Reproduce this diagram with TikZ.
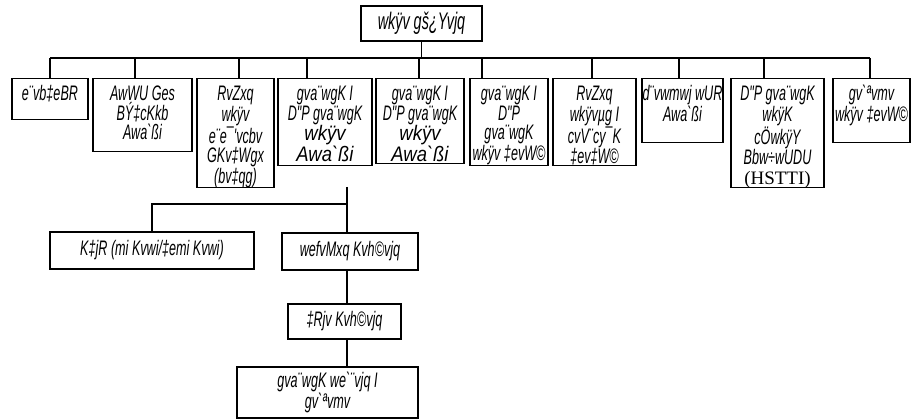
\documentclass[tikz,border=0pt]{standalone}
\usepackage{fontspec}
\setmainfont{Liberation Sans}[FakeStretch=0.6, Ligatures=TeXOff]
\newfontfamily\widefont{Liberation Sans}[FakeStretch=0.88, Ligatures=TeXOff]
\newfontfamily\tmsfont{Liberation Serif}
\newcommand\bigline{\widefont\itshape}

\begin{document}
\begin{tikzpicture}[
  x=1pt, y=-1pt,
  box/.style={rectangle, draw, line width=1.4pt, inner xsep=2pt, inner ysep=0pt, align=center,
    font=\fontsize{21}{19.5}\selectfont\itshape},
  unit/.style={box, align=flush center, anchor=north, inner xsep=-8pt, text height=22pt, text depth=#1},
  conn/.style={line width=1.4pt},
  big/.style={font=\fontsize{24}{22}\selectfont\itshape}
]
  \useasboundingbox (0,0) rectangle (921,419);

  % ministry
  \node[box, big, minimum width=121pt, minimum height=35pt] (top) at (421.5,23.5) {wkÿv gš¿Yvjq};

  % first row (text width = box width + 16pt)
  \node[unit=19pt, text width=92pt] (bn) at (50,78) {e¨vb‡eBR};
  \node[unit=51pt, text width=115pt] (ad) at (142.5,78) {AwWU Ges\\BÝ‡cKkb\\Awa`ßi};
  \node[unit=87pt, text width=93pt] (na) at (235.5,78) {RvZxq\\wkÿv\\e¨e¯'vcbv\\GKv‡Wgx\\(bv‡qg)};
  \node[unit=65pt, text width=110pt] (dshe) at (325,78)
    {gva¨wgK I\\D"P gva¨wgK\\\bigline wkÿv\\\bigline Awa`ßi};
  \node[unit=63pt, text width=104pt] (dsheb) at (420,78)
    {gva¨wgK I\\D"P gva¨wgK\\\bigline wkÿv\\\bigline Awa`ßi};
  \node[unit=65pt, text width=94pt] (bb) at (509,78) {gva¨wgK I\\D"P\\gva¨wgK\\wkÿv ‡evW©};
  \node[unit=65pt, text width=99pt] (nctb) at (594.5,78) {RvZxq\\wkÿvµg I\\cvV¨cy¯K\\‡ev‡W©};
  \node[unit=42pt, text width=97pt] (fac) at (682.5,78) {d¨vwmwj wUR\\Awa`ßi};
  \node[unit=87pt, text width=109pt] (hstti) at (777.5,78)
    {D"P gva¨wgK\\wkÿK\\cÖwkÿY\\Bbw÷wUDU\\\tmsfont\upshape\fontsize{19}{21}\selectfont (HSTTI)};
  \node[unit=42pt, text width=93pt] (mb) at (871.5,78) {gv`ªvmv\\wkÿv ‡evW©};

  % bus
  \foreach \xx/\bx [count=\i] in {50/bn, 135/ad, 239/na, 307/dshe, 419/dsheb, 482/bb, 592/nctb, 679/fac, 764/hstti, 870/mb}
  {
    \coordinate (d\i) at (\xx,58);
    \draw[conn] (d\i) -- (d\i |- \bx.north);
  }
  \draw[conn] (d1) -- (d10);
  \draw[conn] (top.south) -- (top.south |- d1);

  % second level
  \node[box, minimum width=204pt, minimum height=37pt] (college) at (152,250.5) {K‡jR (mi Kvwi/‡emi Kvwi)};
  \node[box, minimum width=136pt, minimum height=37pt] (div) at (350,251.5) {wefvMxq Kvh©vjq};
  \node[box, minimum width=113pt, minimum height=35pt] (dist) at (344.5,321.5) {‡Rjv Kvh©vjq};
  \node[box, font=\fontsize{21}{17}\selectfont\itshape, minimum width=181pt, minimum height=51pt] (school)
    at (327.5,392.5) {gva¨wgK we`¨vjq I\\gv`ªvmv};

  \coordinate (split) at (347,187);
  \coordinate (fork) at (347,204);
  \draw[conn] (split) -- (fork) -- (fork -| college.north) -- (college.north);
  \draw[conn] (fork) -- (fork |- div.north);
  \draw[conn] (div.south -| fork) -- (dist.north -| fork);
  \draw[conn] (dist.south -| fork) -- (school.north -| fork);

\end{tikzpicture}
\end{document}
